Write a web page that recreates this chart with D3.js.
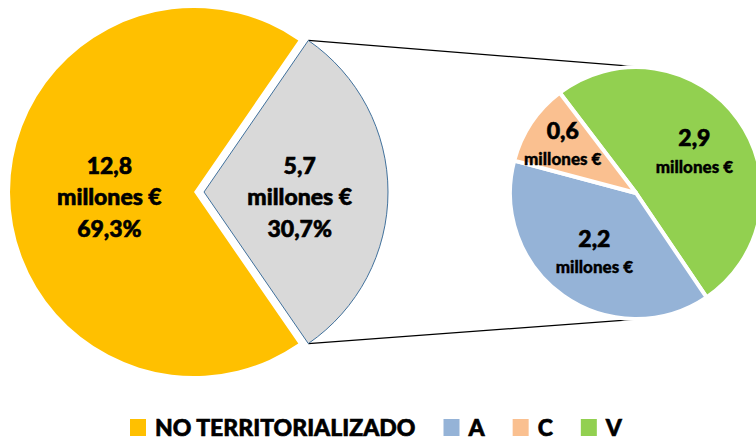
<!DOCTYPE html>
<html>
<head>
<meta charset="utf-8">
<script src="https://cdn.jsdelivr.net/npm/d3@7"></script>
<style>
  body { margin: 0; background: #fff; }
  svg text { font-family: Lato, "Noto Sans", sans-serif; font-weight: 900; fill: #000; stroke: #000; stroke-width: 0.6px; }
</style>
</head>
<body>
<svg width="756" height="440"></svg>
<script>
// main pie: not territorialized vs territorialized
var mainNames = ["NO TERRITORIALIZADO", "TERRITORIALIZADO"];
var mainValues = [12.8, 5.7];
var mainValueLabels = ["12,8", "5,7"];
var mainPercents = ["69,3%", "30,7%"];
var mainColors = ["#FFC000", "#D9D9D9"];

// second pie: the territorialized part split by province
var subNames = ["V", "A", "C"];
var subValues = [2.9, 2.2, 0.6];
var subValueLabels = ["2,9", "2,2", "0,6"];
var subColors = ["#92D050", "#95B3D7", "#FAC090"];

// legend order
var legendNames = ["NO TERRITORIALIZADO", "A", "C", "V"];
var legendColors = ["#FFC000", "#95B3D7", "#FAC090", "#92D050"];

var svg = d3.select("svg");

//==================================================
// big pie
var R = 184, cx = 194, cy = 192, explode = 10;
var total = d3.sum(mainValues);
var grayFrac = mainValues[1] / total;

var bigPie = d3.pie().sort(null)
    .startAngle(Math.PI / 2 + Math.PI * grayFrac)
    .endAngle(Math.PI / 2 + Math.PI * grayFrac + 2 * Math.PI);
var bigArcs = bigPie(mainValues);
var bigArc = d3.arc().innerRadius(0).outerRadius(R);

// offset of each slice (only the gray one is pulled out)
var offset = function(d, i) {
    if (i == 0) return [0, 0];
    var a = (d.startAngle + d.endAngle) / 2;
    return [explode * Math.sin(a), -explode * Math.cos(a)];
};

//==================================================
// small pie
var r = 126, sx = 636, sy = 193;
var smallPie = d3.pie().sort(null)
    .startAngle(-0.65)
    .endAngle(-0.65 + 2 * Math.PI);
var smallArcs = smallPie(subValues);
var smallArc = d3.arc().innerRadius(0).outerRadius(r);

//==================================================
// connector lines, from the gray slice corners to the small pie
var g = bigArcs[1], go = offset(g, 1);
var pt = function(x0, y0, rad, a) { return [x0 + rad * Math.sin(a), y0 - rad * Math.cos(a)]; };
var lines = [
    [pt(cx + go[0], cy + go[1], R, g.startAngle), pt(sx, sy, r, 0.10)],
    [pt(cx + go[0], cy + go[1], R, g.endAngle), pt(sx, sy, r, Math.PI - 0.05)]
];
svg.append("g").selectAll("line")
    .data(lines)
    .enter().append("line")
    .attr("x1", function(d) { return d[0][0]; })
    .attr("y1", function(d) { return d[0][1]; })
    .attr("x2", function(d) { return d[1][0]; })
    .attr("y2", function(d) { return d[1][1]; })
    .attr("stroke", "#000")
    .attr("stroke-width", 1.3);

var big = svg.append("g").attr("transform", "translate(" + cx + "," + cy + ")");
var slices = big.selectAll("g.slice")
    .data(bigArcs)
    .enter().append("g")
    .attr("class", "slice")
    .attr("transform", function(d, i) { var o = offset(d, i); return "translate(" + o[0] + "," + o[1] + ")"; });

slices.append("path")
    .attr("d", bigArc)
    .attr("fill", function(d, i) { return mainColors[i]; })
    .attr("stroke", function(d, i) { return i == 1 ? "#41719C" : "none"; })
    .attr("stroke-width", 1);

// labels of the big pie
var labelR = [0.46 * R, 0.52 * R];
slices.each(function(d, i) {
    var a = (d.startAngle + d.endAngle) / 2;
    var p = pt(0, 0, labelR[i], a);
    var t = d3.select(this).append("g").attr("transform", "translate(" + p[0] + "," + (p[1] + 4) + ")");
    var rows = [mainValueLabels[i], "millones €", mainPercents[i]];
    t.selectAll("text").data(rows).enter().append("text")
        .attr("text-anchor", "middle")
        .attr("dominant-baseline", "central")
        .attr("y", function(s, k) { return (k - 1) * 31.5; })
        .style("font-size", "23px")
        .text(function(s) { return s; });
});

var small = svg.append("g").attr("transform", "translate(" + sx + "," + sy + ")");
small.selectAll("path")
    .data(smallArcs)
    .enter().append("path")
    .attr("d", smallArc)
    .attr("fill", function(d, i) { return subColors[i]; })
    .attr("stroke", "#fff")
    .attr("stroke-width", 4)
    .attr("stroke-linejoin", "round");

small.selectAll("g.lab")
    .data(smallArcs)
    .enter().append("g")
    .attr("class", "lab")
    .attr("transform", function(d, i) {
        var a = (d.startAngle + d.endAngle) / 2;
        var p = pt(0, 0, d.value < 1 ? 0.7 * r : 0.57 * r, a);
        return "translate(" + p[0] + "," + p[1] + ")";
    })
    .each(function(d, i) {
        var t = d3.select(this);
        t.append("text")
            .attr("text-anchor", "middle")
            .attr("dominant-baseline", "central")
            .attr("y", -14)
            .style("font-size", "23px")
            .text(subValueLabels[i]);
        t.append("text")
            .attr("text-anchor", "middle")
            .attr("dominant-baseline", "central")
            .attr("y", 15)
            .style("font-size", "17px")
            .style("stroke-width", "0.4px")
            .text("millones €");
    });

//==================================================
// legend
var legend = svg.append("g").attr("transform", "translate(130,426)");
var lx = 0;
legendNames.forEach(function(name, i) {
    legend.append("rect")
        .attr("x", lx).attr("y", -7)
        .attr("width", 16).attr("height", 17)
        .attr("fill", legendColors[i]);
    var t = legend.append("text")
        .attr("x", lx + 25)
        .attr("dominant-baseline", "central")
        .attr("y", 1)
        .style("font-size", "23px")
        .text(name);
    lx += 25 + t.node().getComputedTextLength() + 28;
});
</script>
</body>
</html>
